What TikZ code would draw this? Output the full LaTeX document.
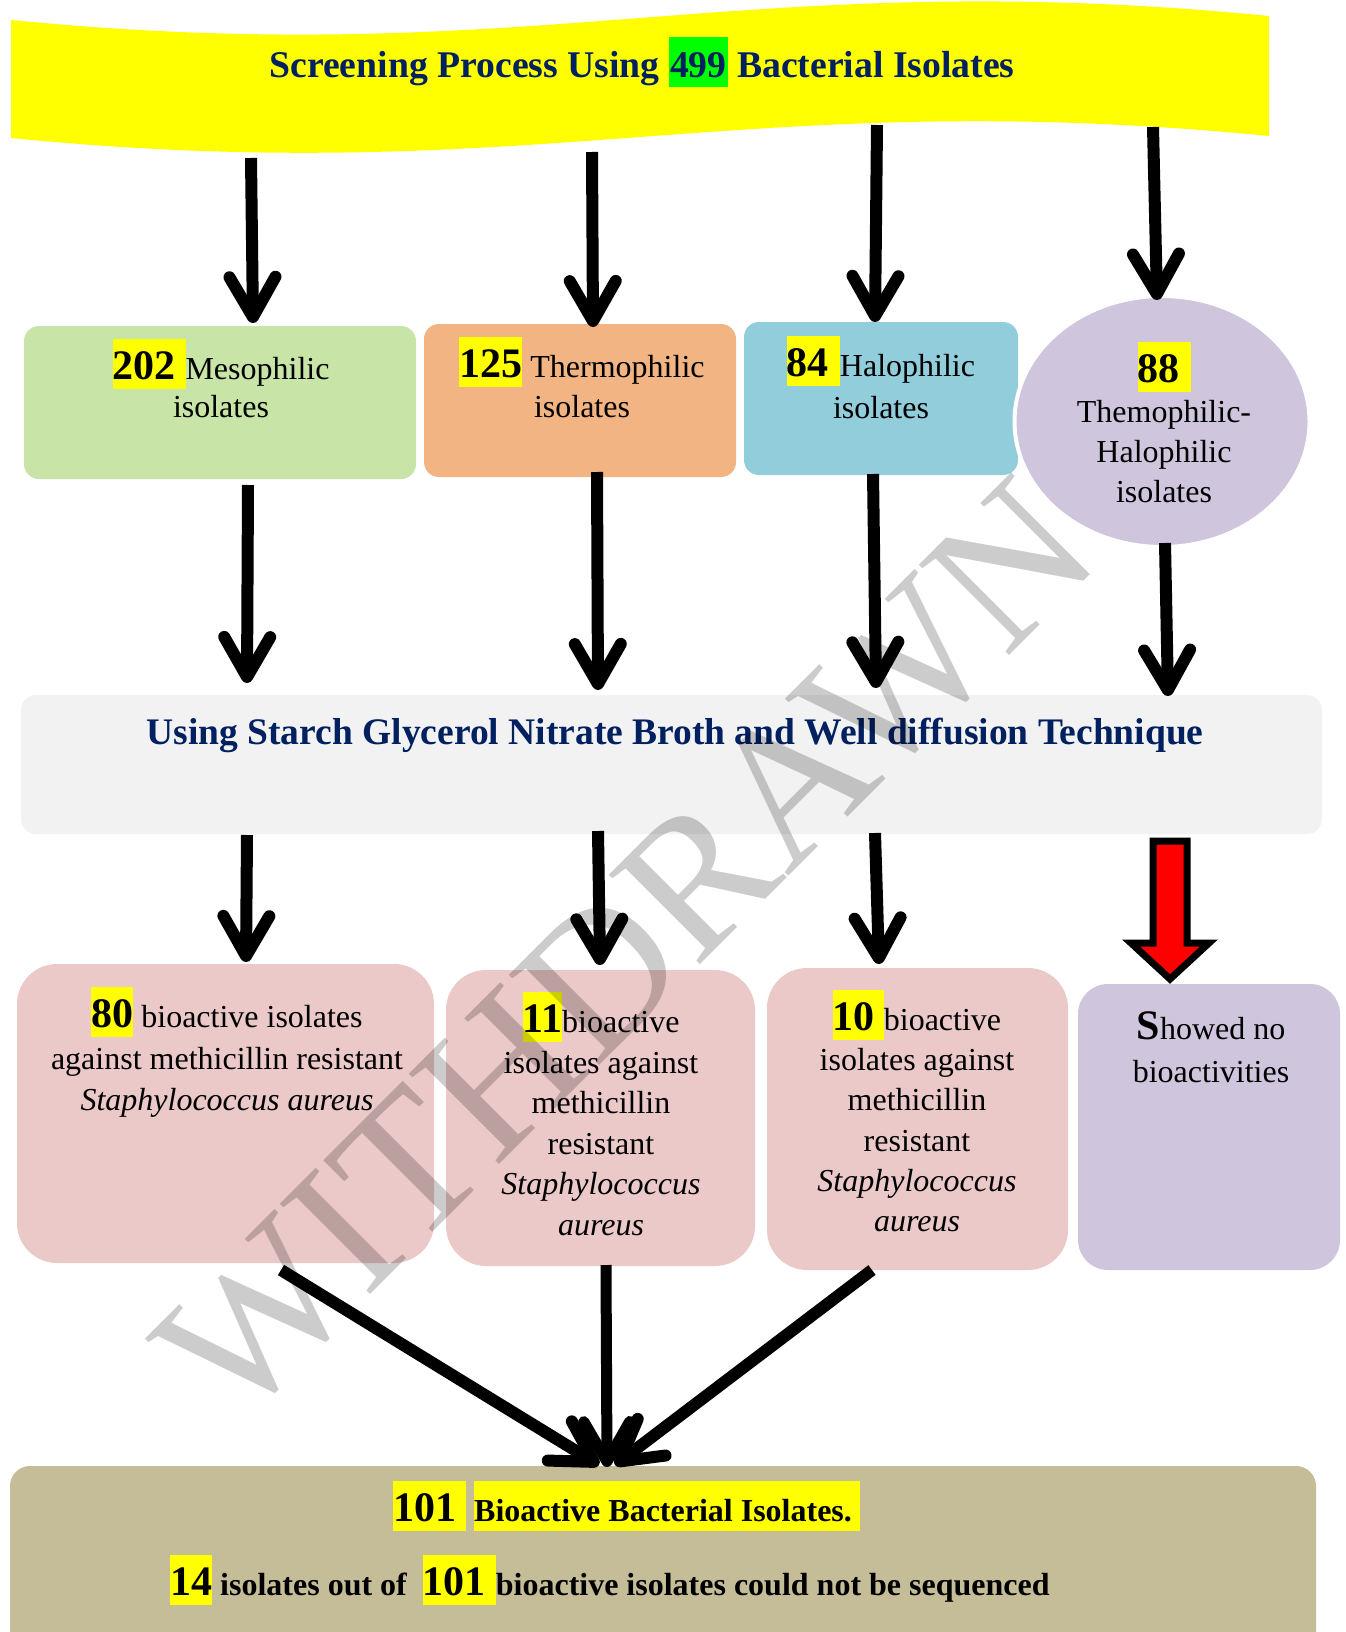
\documentclass[tikz,border=0pt]{standalone}
\usepackage{fontspec}
\setmainfont{Liberation Serif}
\usetikzlibrary{arrows.meta,shapes.geometric}
\definecolor{navy}{RGB}{0,32,96}
\definecolor{cgreen}{RGB}{200,228,166}
\definecolor{corange}{RGB}{241,180,130}
\definecolor{cblue}{RGB}{146,205,220}
\definecolor{clav}{RGB}{207,197,221}
\definecolor{cpink}{RGB}{235,201,201}
\definecolor{cband}{RGB}{242,242,242}
\definecolor{ctan}{RGB}{196,189,151}
\definecolor{hlyellow}{RGB}{255,255,0}
\definecolor{hlgreen}{RGB}{0,255,0}
\definecolor{cred}{RGB}{255,0,0}
\newcommand\hl[2]{{\setlength{\fboxsep}{0pt}\colorbox{#1}{\rule[-9.5pt]{0pt}{50pt}#2}}}
\newcommand\bignum[1]{{\fontsize{42}{40}\selectfont\bfseries #1}}
\newcommand\boxfont{\fontsize{32}{40}\selectfont}
\begin{document}
\begin{tikzpicture}[x=1pt,y=-1pt,
  shapebox/.style={inner sep=0pt, outer sep=0pt, draw=none},
  txt/.style={inner sep=0pt, outer sep=0pt, align=center, font=\boxfont},
  arr/.style={line width=12pt, -{Straight Barb[length=40pt,width=46pt,round]}},
]
\useasboundingbox (0,0) rectangle (1345,1632);

% banner
\fill[hlyellow] (11,20) .. controls (540,72) and (740,-36) .. (1269,16) -- (1269,136) .. controls (740,84) and (540,190) .. (11,138) -- cycle;
\node[anchor=base, inner sep=0pt, font=\fontsize{37.7}{40}\selectfont\bfseries, text=navy] (title) at (642,78) {Screening Process Using \hl{hlgreen}{\hspace{1pt}499\hspace{1pt}} Bacterial Isolates};

% category boxes
\node[shapebox, fill=cgreen, rounded corners=15pt, minimum width=392pt, minimum height=153pt] (meso) at (220,402.5) {};
\node[shapebox, fill=corange, rounded corners=15pt, minimum width=312pt, minimum height=153pt] (thermo) at (580,400.5) {};
\node[shapebox, fill=cblue, rounded corners=15pt, minimum width=274pt, minimum height=153pt] (halo) at (881,398.5) {};
\node[ellipse, fill=clav, draw=white, line width=4pt, inner sep=0pt, minimum width=295pt, minimum height=251pt] (th) at (1162,421.5) {};

\node[txt, anchor=north] (tmeso) at (221,339) {\hl{hlyellow}{\bignum{202}\hspace{10pt}}Mesophilic\\[-2pt]isolates};
\node[txt, anchor=north] (tthermo) at (582,337) {\hl{hlyellow}{\bignum{125}} Thermophilic\\isolates};
\node[txt, anchor=north] (thalo) at (881,336) {\hl{hlyellow}{\bignum{84}\hspace{11pt}}Halophilic\\[2pt]isolates};
\node[txt, anchor=north] (tth) at (1164,342) {\hl{hlyellow}{\bignum{88}\hspace{11pt}}\\Themophilic-\\Halophilic\\isolates};

% band
\node[shapebox, fill=cband, rounded corners=15pt, minimum width=1301pt, minimum height=139pt] (band) at (671.5,764.5) {};
\node[anchor=base, inner sep=0pt, font=\fontsize{37.5}{40}\selectfont\bfseries, text=navy] (tband) at (675,744) {Using Starch Glycerol Nitrate Broth and Well diffusion Technique};

% result boxes
\node[shapebox, fill=cpink, rounded corners=40pt, minimum width=417pt, minimum height=299pt] (r1) at (225.5,1113.5) {};
\node[shapebox, fill=cpink, rounded corners=40pt, minimum width=309pt, minimum height=296pt] (r2) at (600.5,1118) {};
\node[shapebox, fill=cpink, rounded corners=40pt, minimum width=301pt, minimum height=302pt] (r3) at (917.5,1119) {};
\node[shapebox, fill=clav, rounded corners=30pt, minimum width=262pt, minimum height=286pt] (r4) at (1209,1127) {};

\node[txt, anchor=north, font=\fontsize{32}{41.5}\selectfont] (tr1) at (227,987) {\hl{hlyellow}{\bignum{80}} bioactive isolates\\against methicillin resistant\\\textit{Staphylococcus aureus}};
\node[txt, anchor=north, font=\fontsize{32}{40.6}\selectfont] (tr2) at (601,992) {\hl{hlyellow}{\bignum{11}}bioactive\\isolates against\\methicillin\\resistant\\\textit{Staphylococcus}\\\textit{aureus}};
\node[txt, anchor=north, font=\fontsize{32}{40.2}\selectfont] (tr3) at (917,990) {\hl{hlyellow}{\bignum{10}\hspace{9pt}}bioactive\\isolates against\\methicillin\\resistant\\\textit{Staphylococcus}\\\textit{aureus}};
\node[txt, anchor=north, font=\fontsize{32}{43}\selectfont] (tr4) at (1211,1012) {{\fontsize{42}{40}\selectfont\bfseries S}howed no\\bioactivities};

% bottom band
\node[shapebox, fill=ctan, rounded corners=20pt, minimum width=1306pt, minimum height=200pt] (final) at (663,1566) {};
\node[anchor=base west, inner sep=0pt, font=\fontsize{32}{40}\selectfont\bfseries] (tf1) at (393,1521) {\hl{hlyellow}{\bignum{101}\hspace{10pt}}\hspace{8pt}\hl{hlyellow}{Bioactive Bacterial Isolates.\hspace{8pt}}};
\node[anchor=base west, inner sep=0pt, font=\fontsize{32}{40}\selectfont\bfseries] (tf2) at (170,1595) {\hl{hlyellow}{\bignum{14}} isolates out of\hspace{16pt}\hl{hlyellow}{\bignum{101}\hspace{10pt}}bioactive isolates could not be sequenced};

% arrows row 1
\coordinate (a1s) at (251,158); \coordinate (a1e) at (253,323);
\coordinate (a2s) at (592,152); \coordinate (a2e) at (593,327);
\coordinate (a3s) at (877,125); \coordinate (a3e) at (875,322);
\coordinate (a4s) at (1153,127); \coordinate (a4e) at (1157,300);
\draw[arr] (a1s) -- (a1e);
\draw[arr] (a2s) -- (a2e);
\draw[arr] (a3s) -- (a3e);
\draw[arr] (a4s) -- (a4e);
% arrows row 2
\coordinate (b1s) at (248,485); \coordinate (b1e) at (247,683);
\coordinate (b2s) at (597,472); \coordinate (b2e) at (598,690);
\coordinate (b3s) at (873,474); \coordinate (b3e) at (876,688);
\coordinate (b4s) at (1165,543); \coordinate (b4e) at (1168,696);
\draw[arr] (b1s) -- (b1e);
\draw[arr] (b2s) -- (b2e);
\draw[arr] (b3s) -- (b3e);
\draw[arr] (b4s) -- (b4e);
% arrows row 3
\coordinate (c1s) at (247,835); \coordinate (c1e) at (246,962);
\coordinate (c2s) at (598,831); \coordinate (c2e) at (600,965);
\coordinate (c3s) at (875,833); \coordinate (c3e) at (879,964);
\draw[arr] (c1s) -- (c1e);
\draw[arr] (c2s) -- (c2e);
\draw[arr] (c3s) -- (c3e);
% red block arrow
\draw[line width=7pt, fill=cred, draw=black, miter limit=10] (1153,841) -- (1187,841) -- (1187,943) -- (1209,943) -- (1170,979) -- (1131,943) -- (1153,943) -- cycle;
% converging arrows
\coordinate (d1s) at (281,1270); \coordinate (d1e) at (599,1465);
\coordinate (d2s) at (606,1265); \coordinate (d2e) at (607,1467);
\coordinate (d3s) at (872,1270); \coordinate (d3e) at (615,1465);
\draw[arr] (d1s) -- (d1e);
\draw[arr, line width=11pt] (d2s) -- (d2e);
\draw[arr] (d3s) -- (d3e);

% watermark
\node[rotate=45, inner sep=0pt, text=black, text opacity=0.2, font=\fontsize{195}{195}\selectfont] (wm) at (626,950) {WITHDRAWN};
\end{tikzpicture}
\end{document}
